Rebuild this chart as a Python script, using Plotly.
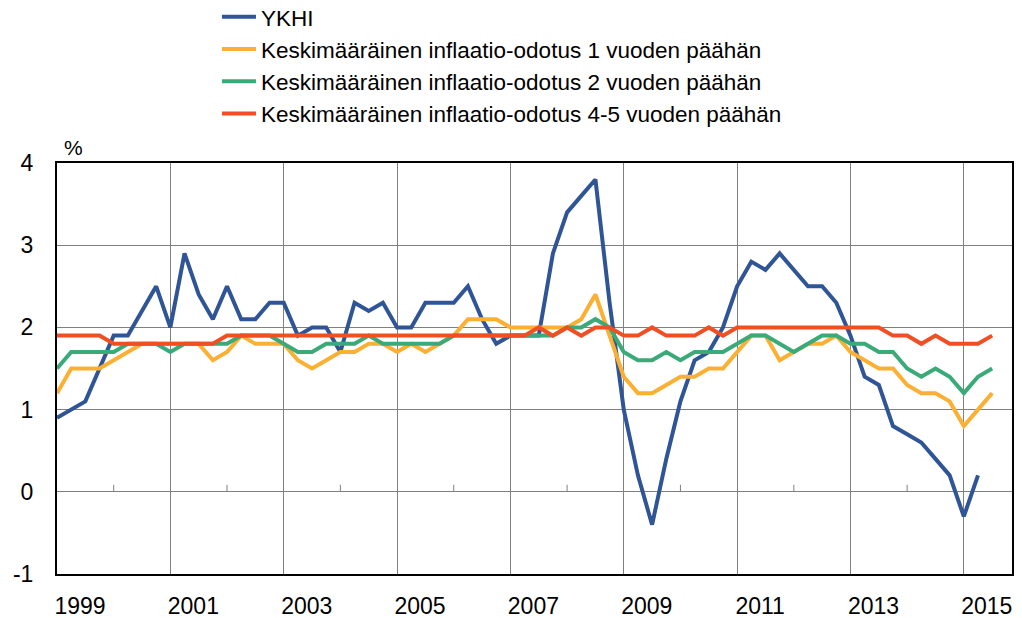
import plotly.graph_objects as go

# neljännesvuosittain 1999Q1 ->
ykhi = [0.9, 1.0, 1.1, 1.5, 1.9, 1.9, 2.2, 2.5, 2.0, 2.9, 2.4, 2.1, 2.5, 2.1, 2.1, 2.3,
        2.3, 1.9, 2.0, 2.0, 1.7, 2.3, 2.2, 2.3, 2.0, 2.0, 2.3, 2.3, 2.3, 2.5, 2.1, 1.8,
        1.9, 1.9, 1.9, 2.9, 3.4, 3.6, 3.8, 2.3, 1.0, 0.2, -0.4, 0.4, 1.1, 1.6, 1.7, 2.0,
        2.5, 2.8, 2.7, 2.9, 2.7, 2.5, 2.5, 2.3, 1.9, 1.4, 1.3, 0.8, 0.7, 0.6, 0.4, 0.2,
        -0.3, 0.2]
odotus_1v = [1.2, 1.5, 1.5, 1.5, 1.6, 1.7, 1.8, 1.8, 1.8, 1.8, 1.8, 1.6, 1.7, 1.9, 1.8, 1.8,
             1.8, 1.6, 1.5, 1.6, 1.7, 1.7, 1.8, 1.8, 1.7, 1.8, 1.7, 1.8, 1.9, 2.1, 2.1, 2.1,
             2.0, 2.0, 2.0, 2.0, 2.0, 2.1, 2.4, 1.9, 1.4, 1.2, 1.2, 1.3, 1.4, 1.4, 1.5, 1.5,
             1.7, 1.9, 1.9, 1.6, 1.7, 1.8, 1.8, 1.9, 1.7, 1.6, 1.5, 1.5, 1.3, 1.2, 1.2, 1.1,
             0.8, 1.0, 1.2]
odotus_2v = [1.5, 1.7, 1.7, 1.7, 1.7, 1.8, 1.8, 1.8, 1.7, 1.8, 1.8, 1.8, 1.8, 1.9, 1.9, 1.9,
             1.8, 1.7, 1.7, 1.8, 1.8, 1.8, 1.9, 1.8, 1.8, 1.8, 1.8, 1.8, 1.9, 1.9, 1.9, 1.9,
             1.9, 1.9, 1.9, 1.9, 2.0, 2.0, 2.1, 2.0, 1.7, 1.6, 1.6, 1.7, 1.6, 1.7, 1.7, 1.7,
             1.8, 1.9, 1.9, 1.8, 1.7, 1.8, 1.9, 1.9, 1.8, 1.8, 1.7, 1.7, 1.5, 1.4, 1.5, 1.4,
             1.2, 1.4, 1.5]
odotus_45v = [1.9, 1.9, 1.9, 1.9, 1.8, 1.8, 1.8, 1.8, 1.8, 1.8, 1.8, 1.8, 1.9, 1.9, 1.9, 1.9,
              1.9, 1.9, 1.9, 1.9, 1.9, 1.9, 1.9, 1.9, 1.9, 1.9, 1.9, 1.9, 1.9, 1.9, 1.9, 1.9,
              1.9, 1.9, 2.0, 1.9, 2.0, 1.9, 2.0, 2.0, 1.9, 1.9, 2.0, 1.9, 1.9, 1.9, 2.0, 1.9,
              2.0, 2.0, 2.0, 2.0, 2.0, 2.0, 2.0, 2.0, 2.0, 2.0, 2.0, 1.9, 1.9, 1.8, 1.9, 1.8,
              1.8, 1.8, 1.9]

nimet = ["YKHI",
         "Keskimääräinen inflaatio-odotus 1 vuoden päähän",
         "Keskimääräinen inflaatio-odotus 2 vuoden päähän",
         "Keskimääräinen inflaatio-odotus 4-5 vuoden päähän"]
varit = ["#2f5597", "#fbb034", "#3aaa78", "#f04e23"]

vuodet = [1999, 2001, 2003, 2005, 2007, 2009, 2011, 2013, 2015]
valivuodet = [2000, 2002, 2004, 2006, 2008, 2010, 2012, 2014]
y_arvot = [-1, 0, 1, 2, 3, 4]

fig = go.Figure()
for nimi, sarja, vari in zip(nimet, [ykhi, odotus_1v, odotus_2v, odotus_45v], varit):
    x = [1999 + i / 4 for i in range(len(sarja))]
    fig.add_trace(go.Scatter(x=x, y=sarja, mode='lines', name=nimi,
                             line=dict(color=vari, width=4)))

# pienet väliviivat nollatasolla
for v in valivuodet:
    fig.add_shape(type='line', xref='x', yref='y', x0=v, x1=v, y0=0, y1=7,
                  ysizemode='pixel', yanchor=0, line=dict(color='#808080', width=1))

fig.add_annotation(text='%', xref='paper', yref='paper', x=0.017, y=1.038,
                   showarrow=False, xanchor='center', yanchor='middle',
                   font=dict(size=21, color='black'))

fig.update_layout(
    width=1022, height=618,
    margin=dict(l=57, r=10, t=163, b=44, autoexpand=False),
    plot_bgcolor='white', paper_bgcolor='white',
    font=dict(family='Liberation Sans, Arial', color='black'),
    showlegend=True,
    legend=dict(x=0.1675, y=1.407, xanchor='left', yanchor='top', font=dict(size=22.5),
                bgcolor='rgba(0,0,0,0)', itemwidth=34),
    xaxis=dict(range=[1999, 2015.85], tickvals=vuodet, ticktext=[str(v) for v in vuodet],
               showgrid=True, gridcolor='#808080', gridwidth=1,
               showline=True, linecolor='black', linewidth=2, mirror=True,
               ticks='', ticklabelshift=23, ticklabelstandoff=10,
               tickfont=dict(size=23), zeroline=False),
    yaxis=dict(range=[-1, 4], tickvals=y_arvot, ticktext=[str(v) for v in y_arvot],
               showgrid=True, gridcolor='#808080', gridwidth=1,
               showline=True, linecolor='black', linewidth=2, mirror=True,
               ticks='', ticklabelstandoff=17, tickfont=dict(size=23),
               zeroline=False),
)

fig.write_html("out.html", config={'displayModeBar': False},
               post_script="document.body.style.margin='0px';")
